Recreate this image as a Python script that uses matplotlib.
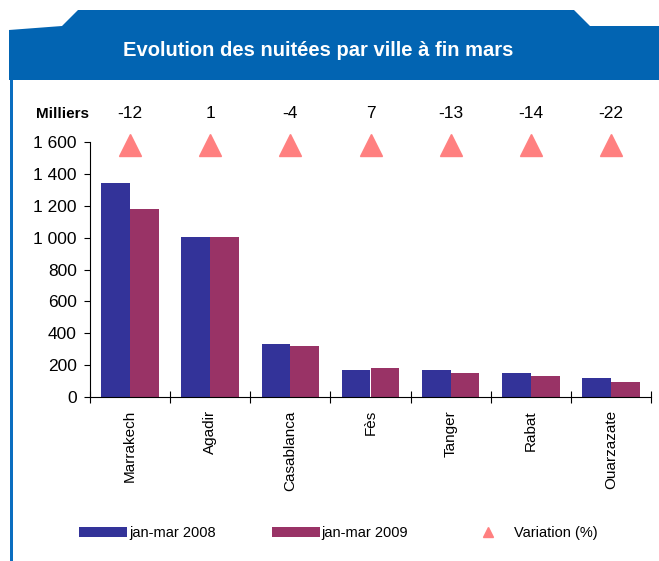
import matplotlib
matplotlib.use("Agg")
import matplotlib.pyplot as plt
import numpy as np
from matplotlib.patches import Polygon, Rectangle
from matplotlib.lines import Line2D

plt.rcParams['font.family'] = ['Liberation Sans', 'DejaVu Sans']

# ---- data ----
cities = ["Marrakech", "Agadir", "Casablanca", "Fès", "Tanger", "Rabat", "Ouarzazate"]
nuitees_2008 = [1342, 1002, 334, 170, 170, 151, 120]
nuitees_2009 = [1178, 1008, 321, 183, 151, 132, 94]
variation = [-12, 1, -4, 7, -13, -14, -22]
series_labels = ["jan-mar 2008", "jan-mar 2009", "Variation (%)"]
yticks = [0, 200, 400, 600, 800, 1000, 1200, 1400, 1600]
title = "Evolution des nuitées par ville à fin mars"
unit_label = "Milliers"

W, H = 659, 561
fig = plt.figure(figsize=(W / 100, H / 100), dpi=100)
fig.patch.set_facecolor("white")

def fx(px):
    return px / W

def fy(py):
    return 1 - py / H

HEADER = "#0264B2"
# header band with tab
pts = [(9, 30), (62, 26), (78, 10), (574, 10), (590, 26), (659, 26), (659, 80), (9, 80)]
fig.patches.append(Polygon([(fx(x), fy(y)) for x, y in pts], closed=True,
                           transform=fig.transFigure, facecolor=HEADER,
                           edgecolor="none", zorder=0))
# left vertical line
fig.patches.append(Rectangle((fx(9.5), 0), fx(3.2), fy(80), transform=fig.transFigure,
                             facecolor="#0A6EC0", edgecolor="none", zorder=0))
fig.text(fx(318), fy(51), title, color="white", fontsize=14.5, fontweight="bold",
         ha="center", va="center")

# ---- axes ----
ax = fig.add_axes([fx(90), fy(397), fx(651) - fx(90), fy(142.3) - fy(397)])
x = np.arange(len(cities))
bw = 0.36
b1 = ax.bar(x - bw / 2, nuitees_2008, width=bw, color="#333399", label=series_labels[0])
b2 = ax.bar(x + bw / 2, nuitees_2009, width=bw, color="#993366", label=series_labels[1])

ax.set_xlim(-0.5, len(cities) - 0.5)
ax.set_ylim(0, 1600)
ax.set_yticks(yticks)
ax.set_yticklabels([f"{v:,}".replace(",", " ") for v in yticks], fontsize=12.5)
ax.set_xticks(x)
ax.set_xticklabels(cities, rotation=90, fontsize=11)
ax.set_xticks(np.arange(len(cities) + 1) - 0.5, minor=True)
ax.tick_params(axis="x", which="major", length=0, pad=9.5)
ax.tick_params(axis="x", which="minor", direction="inout", length=8, width=0.8)
ax.tick_params(axis="y", direction="out", length=4.5, width=0.8, pad=5)
for s in ["top", "right"]:
    ax.spines[s].set_visible(False)
for s in ["left", "bottom"]:
    ax.spines[s].set_linewidth(0.8)

# variation markers + labels
tri = ax.plot(x, [0.99] * len(x), linestyle="none", marker="^", markersize=15.5,
              color="#FF8080", transform=ax.get_xaxis_transform(), clip_on=False,
              label=series_labels[2])[0]
for xi, v in zip(x, variation):
    ax.annotate(str(v), (xi, 0.99), xycoords=ax.get_xaxis_transform(),
                xytext=(0, 22.7), textcoords="offset points", ha="center",
                va="center", fontsize=12.5, annotation_clip=False)

fig.text(fx(89), fy(113.5), unit_label, fontsize=11, fontweight="bold",
         ha="right", va="center")

# legend
tri_h = Line2D([], [], linestyle="none", marker="^", markersize=7.6, color="#FF8080")
leg = fig.legend([b1, b2, tri_h], series_labels, loc="center left",
                 bbox_to_anchor=(fx(79), fy(533)), ncol=3, frameon=False,
                 fontsize=10.5, handlelength=3.3, handleheight=0.65,
                 handletextpad=0.12, columnspacing=3.85, borderpad=0,
                 borderaxespad=0)

fig.savefig("out.png", dpi=100)
